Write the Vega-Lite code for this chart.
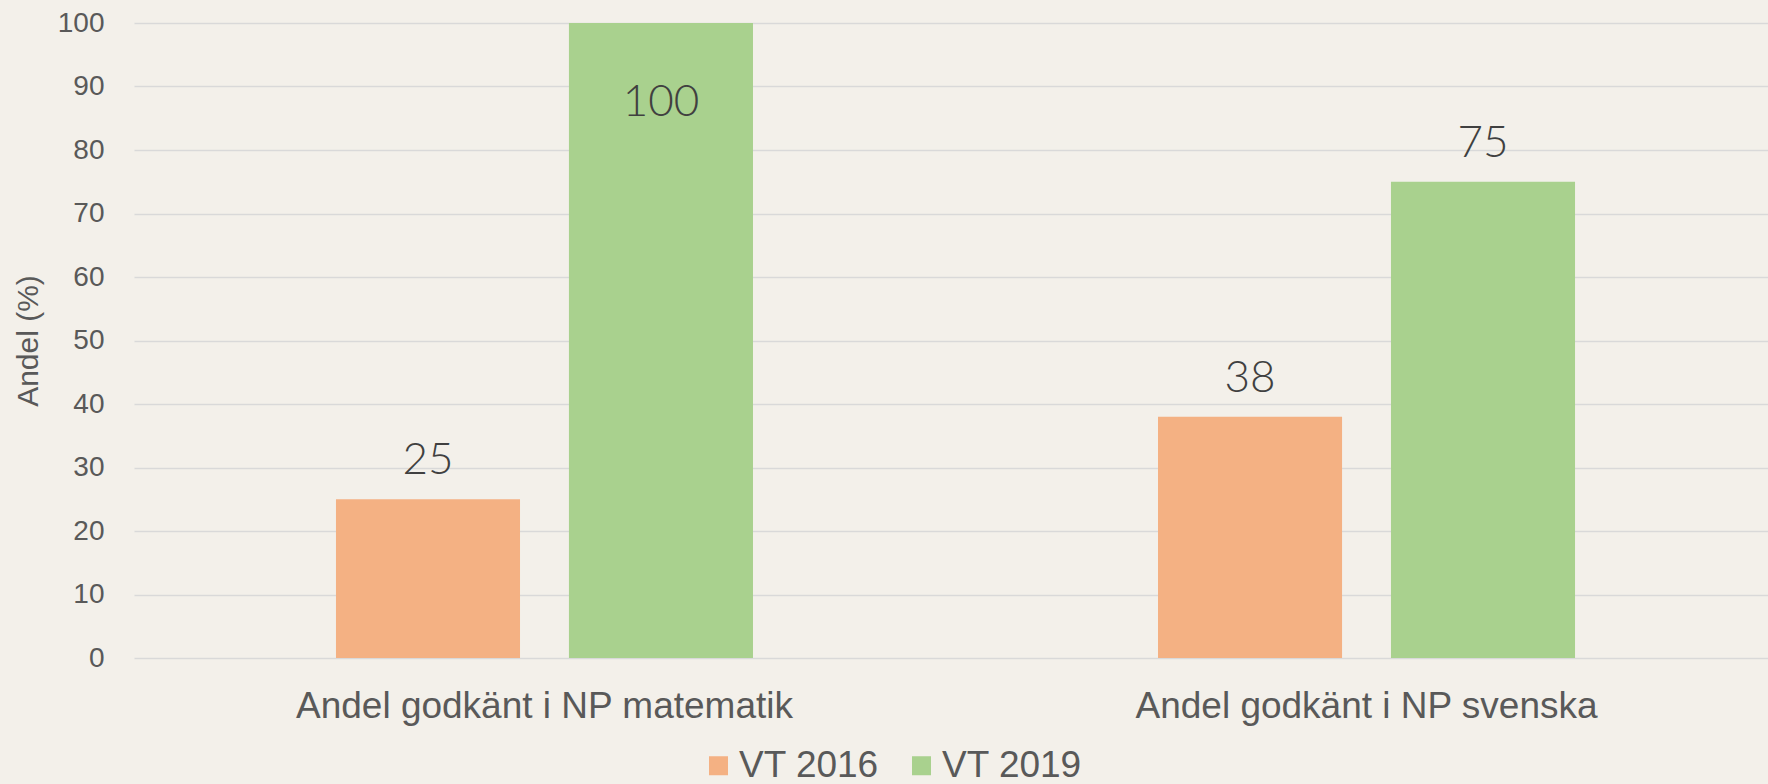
{
  "$schema": "https://vega.github.io/schema/vega-lite/v6.json",
  "width": 1634,
  "height": 635,
  "autosize": {"type": "none"},
  "padding": {"left": 134, "top": 23, "right": 0, "bottom": 126},
  "background": "#f3f0ea",
  "config": {"view": {"stroke": null}, "font": "Liberation Sans"},
  "data": {
    "values": [
      {"kategori": "Andel godkänt i NP matematik", "period": "VT 2016", "andel": 25},
      {"kategori": "Andel godkänt i NP matematik", "period": "VT 2019", "andel": 100},
      {"kategori": "Andel godkänt i NP svenska", "period": "VT 2016", "andel": 38},
      {"kategori": "Andel godkänt i NP svenska", "period": "VT 2019", "andel": 75}
    ]
  },
  "encoding": {
    "x": {
      "field": "kategori",
      "type": "nominal",
      "sort": null,
      "scale": {"range": [0, 1643], "paddingInner": 0.4927, "paddingOuter": 0.2457},
      "axis": {
        "title": null,
        "domain": false,
        "ticks": false,
        "tickSize": 0,
        "grid": false,
        "labelAngle": 0,
        "labelLimit": 0,
        "labelFont": "Liberation Sans",
        "labelFontSize": 37,
        "labelColor": "#595959",
        "labelPadding": 59,
        "labelBaseline": "alphabetic"
      }
    },
    "xOffset": {
      "field": "period",
      "type": "nominal",
      "scale": {"paddingInner": 0.21, "paddingOuter": 0}
    },
    "y": {
      "field": "andel",
      "type": "quantitative",
      "scale": {"domain": [0, 100]},
      "axis": {
        "values": [0, 10, 20, 30, 40, 50, 60, 70, 80, 90, 100],
        "domain": false,
        "ticks": false,
        "grid": true,
        "gridColor": "#d9d9d9",
        "gridWidth": 1.5,
        "labelFont": "Liberation Sans",
        "labelFontSize": 28,
        "labelColor": "#595959",
        "labelPadding": 30,
        "title": "Andel (%)",
        "titleFont": "Liberation Sans",
        "titleFontSize": 30,
        "titleFontWeight": "normal",
        "titleColor": "#595959",
        "titleAngle": -90,
        "titleX": -106,
        "titleY": 317.5,
        "titleAlign": "center",
        "titleBaseline": "middle"
      }
    }
  },
  "layer": [
    {
      "mark": {"type": "bar"},
      "encoding": {
        "color": {
          "field": "period",
          "type": "nominal",
          "scale": {"domain": ["VT 2016", "VT 2019"], "range": ["#f4b183", "#a9d18e"]},
          "legend": {
            "orient": "none",
            "legendX": 566,
            "legendY": 724,
            "direction": "horizontal",
            "title": null,
            "symbolType": "square",
            "symbolSize": 361,
            "symbolStrokeWidth": 0,
            "symbolOpacity": 1,
            "labelFont": "Liberation Sans",
            "labelFontSize": 37,
            "labelColor": "#595959",
            "labelOffset": 2,
            "columnPadding": 24,
            "padding": 0
          }
        }
      }
    },
    {
      "transform": [{"filter": "datum.andel < 90"}],
      "mark": {"type": "text", "dy": -25, "baseline": "alphabetic", "align": "center", "font": "Lato", "fontWeight": 300, "fontSize": 44, "color": "#404040"},
      "encoding": {"text": {"field": "andel", "type": "quantitative"}}
    },
    {
      "transform": [{"filter": "datum.andel >= 90"}],
      "mark": {"type": "text", "dy": 93, "baseline": "alphabetic", "align": "center", "font": "Lato", "fontWeight": 300, "fontSize": 44, "color": "#404040"},
      "encoding": {"text": {"field": "andel", "type": "quantitative"}}
    }
  ]
}
